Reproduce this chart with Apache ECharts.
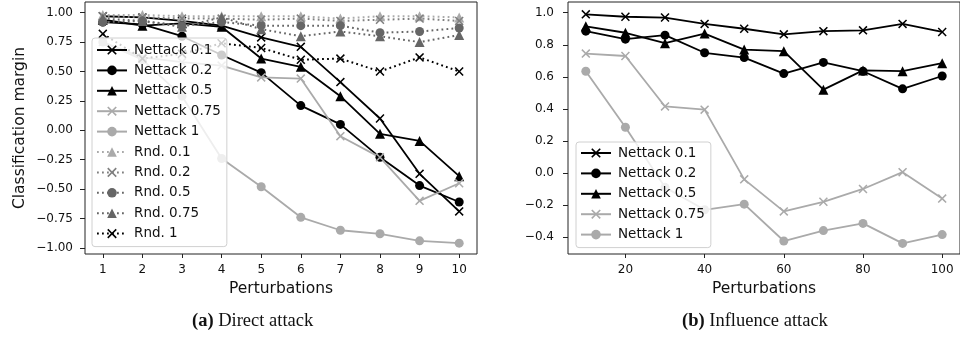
<!DOCTYPE html>
<html><head><meta charset="utf-8">
<script src="https://cdn.jsdelivr.net/npm/echarts@6/dist/echarts.min.js"></script>
<style>html,body{margin:0;padding:0;background:#fff}#c{width:960px;height:345px}</style>
</head><body><div id="c"></div>
<script>
// ---- Data (a) Direct attack ----
const directX = [1, 2, 3, 4, 5, 6, 7, 8, 9, 10];
const dNettack01 = [0.97, 0.96, 0.93, 0.89, 0.79, 0.71, 0.41, 0.10, -0.37, -0.69];
const dNettack02 = [0.92, 0.90, 0.80, 0.64, 0.49, 0.21, 0.05, -0.23, -0.47, -0.61];
const dNettack05 = [0.94, 0.89, 0.91, 0.88, 0.61, 0.54, 0.29, -0.03, -0.09, -0.39];
const dNettack075 = [0.75, 0.62, 0.58, 0.55, 0.45, 0.44, -0.05, -0.23, -0.60, -0.45];
const dNettack1 = [0.75, 0.60, 0.29, -0.24, -0.48, -0.74, -0.85, -0.88, -0.94, -0.96];
const dRnd01 = [0.98, 0.98, 0.97, 0.97, 0.97, 0.97, 0.95, 0.97, 0.97, 0.96];
const dRnd02 = [0.97, 0.96, 0.95, 0.95, 0.94, 0.95, 0.93, 0.94, 0.95, 0.93];
const dRnd05 = [0.92, 0.93, 0.89, 0.92, 0.89, 0.89, 0.89, 0.83, 0.84, 0.87];
const dRnd075 = [0.95, 0.93, 0.88, 0.96, 0.86, 0.80, 0.84, 0.80, 0.75, 0.81];
const dRnd1 = [0.82, 0.61, 0.65, 0.74, 0.70, 0.60, 0.61, 0.50, 0.62, 0.50];
// ---- Data (b) Influence attack ----
const influenceX = [10, 20, 30, 40, 50, 60, 70, 80, 90, 100];
const iNettack01 = [0.99, 0.975, 0.97, 0.93, 0.90, 0.865, 0.885, 0.89, 0.93, 0.88];
const iNettack02 = [0.885, 0.835, 0.86, 0.75, 0.72, 0.62, 0.69, 0.635, 0.525, 0.605];
const iNettack05 = [0.915, 0.875, 0.81, 0.87, 0.77, 0.76, 0.52, 0.64, 0.635, 0.685];
const iNettack075 = [0.745, 0.73, 0.415, 0.395, -0.04, -0.24, -0.18, -0.10, 0.005, -0.16];
const iNettack1 = [0.635, 0.285, -0.09, -0.23, -0.195, -0.425, -0.36, -0.315, -0.44, -0.385];
// ---- Ticks ----
const directXTicks = [1, 2, 3, 4, 5, 6, 7, 8, 9, 10];
const directYTicks = [-1, -0.75, -0.5, -0.25, 0, 0.25, 0.5, 0.75, 1];
const influenceXTicks = [20, 40, 60, 80, 100];
const influenceYTicks = [-0.4, -0.2, 0, 0.2, 0.4, 0.6, 0.8, 1.0];

const XSYM = 'path://M0,1.2 L1.2,0 L5,3.8 L8.8,0 L10,1.2 L6.2,5 L10,8.8 L8.8,10 L5,6.2 L1.2,10 L0,8.8 L3.8,5 Z';
const FONT = 'DejaVu Sans';
const pair = (xs, ys) => xs.map((x, i) => [x, ys[i]]);
const minus = s => s.replace('-', '\u2212');

function mk(name, xs, ys, idx, color, sym, size, dotted) {
  return {
    name, type: 'line', xAxisIndex: idx, yAxisIndex: idx,
    data: pair(xs, ys), symbol: sym, symbolSize: size, showSymbol: true,
    lineStyle: { color, width: dotted ? 2 : 1.8, type: dotted ? [1.8, 3.2] : 'solid', cap: 'butt' },
    itemStyle: { color, borderWidth: 0 },
    emphasis: { disabled: true }, z: 2
  };
}
const BLACK = '#000000', LG = '#aaaaaa', MG = '#808080', DG = '#666666';

const series = [
  mk('Nettack 0.1', directX, dNettack01, 0, BLACK, XSYM, 9, false),
  mk('Nettack 0.2', directX, dNettack02, 0, BLACK, 'circle', 9, false),
  mk('Nettack 0.5', directX, dNettack05, 0, BLACK, 'triangle', 10, false),
  mk('Nettack 0.75', directX, dNettack075, 0, LG, XSYM, 9, false),
  mk('Nettack 1', directX, dNettack1, 0, LG, 'circle', 9, false),
  mk('Rnd. 0.1', directX, dRnd01, 0, LG, 'triangle', 10, true),
  mk('Rnd. 0.2', directX, dRnd02, 0, MG, XSYM, 9, true),
  mk('Rnd. 0.5', directX, dRnd05, 0, DG, 'circle', 9, true),
  mk('Rnd. 0.75', directX, dRnd075, 0, DG, 'triangle', 10, true),
  mk('Rnd. 1', directX, dRnd1, 0, BLACK, XSYM, 9, true),
  mk('Nettack 0.1 ', influenceX, iNettack01, 1, BLACK, XSYM, 9, false),
  mk('Nettack 0.2 ', influenceX, iNettack02, 1, BLACK, 'circle', 9, false),
  mk('Nettack 0.5 ', influenceX, iNettack05, 1, BLACK, 'triangle', 10, false),
  mk('Nettack 0.75 ', influenceX, iNettack075, 1, LG, XSYM, 9, false),
  mk('Nettack 1 ', influenceX, iNettack1, 1, LG, 'circle', 9, false)
];

const axisText = { color: '#111', fontFamily: FONT, fontSize: 12 };
function xAx(idx, min, max, ticks) {
  return {
    type: 'value', gridIndex: idx, min, max,
    axisLine: { show: false, onZero: false }, splitLine: { show: false },
    axisTick: { show: true, length: 4, inside: false, customValues: ticks, lineStyle: { color: '#222', width: 1 } },
    axisLabel: { customValues: ticks, margin: 10, ...axisText },
    name: 'Perturbations', nameLocation: 'middle', nameGap: 27,
    nameTextStyle: { color: '#111', fontFamily: FONT, fontSize: 15.5 }
  };
}
function yAx(idx, min, max, ticks, dec, margin) {
  return {
    type: 'value', gridIndex: idx, min, max,
    axisLine: { show: false, onZero: false }, splitLine: { show: false },
    axisTick: { show: true, length: 5, inside: false, customValues: ticks, lineStyle: { color: '#222', width: 1 } },
    axisLabel: { customValues: ticks, margin, formatter: v => minus(v.toFixed(dec)), ...axisText }
  };
}

const legendCommon = {
  orient: 'vertical', itemWidth: 30, itemHeight: 12, itemGap: 6.4,
  backgroundColor: 'rgba(255,255,255,0.8)', borderColor: '#d0d0d0', borderWidth: 1, borderRadius: 3,
  textStyle: { color: '#111', fontFamily: FONT, fontSize: 13.5, lineHeight: 14, padding: [0, 0, 0, 2] },
  selectedMode: false
};

const chart = echarts.init(document.getElementById('c'), null, { renderer: 'canvas' });
chart.setOption({
  animation: false,
  backgroundColor: '#ffffff',
  grid: [
    { left: 85, top: 2, width: 392, height: 252, show: true, borderColor: '#222', borderWidth: 1, backgroundColor: 'transparent' },
    { left: 568, top: 2, width: 394, height: 252, show: true, borderColor: '#222', borderWidth: 1, backgroundColor: 'transparent' }
  ],
  xAxis: [xAx(0, 0.55, 10.45, directXTicks), xAx(1, 5.5, 104.5, influenceXTicks)],
  yAxis: [
    Object.assign(yAx(0, -1.052, 1.091, directYTicks, 2, 12), {
      name: 'Classification margin', nameLocation: 'middle', nameGap: 57,
      nameTextStyle: { color: '#111', fontFamily: FONT, fontSize: 15.5 }
    }),
    yAx(1, -0.506, 1.067, influenceYTicks, 1, 14)
  ],
  legend: [
    Object.assign({ left: 92, top: 38, padding: [5, 6, 6, 4],
      data: ['Nettack 0.1', 'Nettack 0.2', 'Nettack 0.5', 'Nettack 0.75', 'Nettack 1', 'Rnd. 0.1', 'Rnd. 0.2', 'Rnd. 0.5', 'Rnd. 0.75', 'Rnd. 1'] }, legendCommon),
    Object.assign({ left: 576, top: 142, padding: [4, 6, 6, 4],
      data: ['Nettack 0.1 ', 'Nettack 0.2 ', 'Nettack 0.5 ', 'Nettack 0.75 ', 'Nettack 1 '],
      formatter: n => n.trim() }, legendCommon)
  ],
  graphic: [
    { type: 'text', left: 192, top: 312, style: { text: '{b|(a)} Direct attack', font: '18.5px "Liberation Serif"', fill: '#111',
      rich: { b: { fontFamily: 'Liberation Serif', fontWeight: 'bold', fontSize: 18.5, fill: '#111' } } } },
    { type: 'text', left: 682, top: 312, style: { text: '{b|(b)} Influence attack', font: '18.5px "Liberation Serif"', fill: '#111',
      rich: { b: { fontFamily: 'Liberation Serif', fontWeight: 'bold', fontSize: 18.5, fill: '#111' } } } }
  ],
  series
});
</script></body></html>
